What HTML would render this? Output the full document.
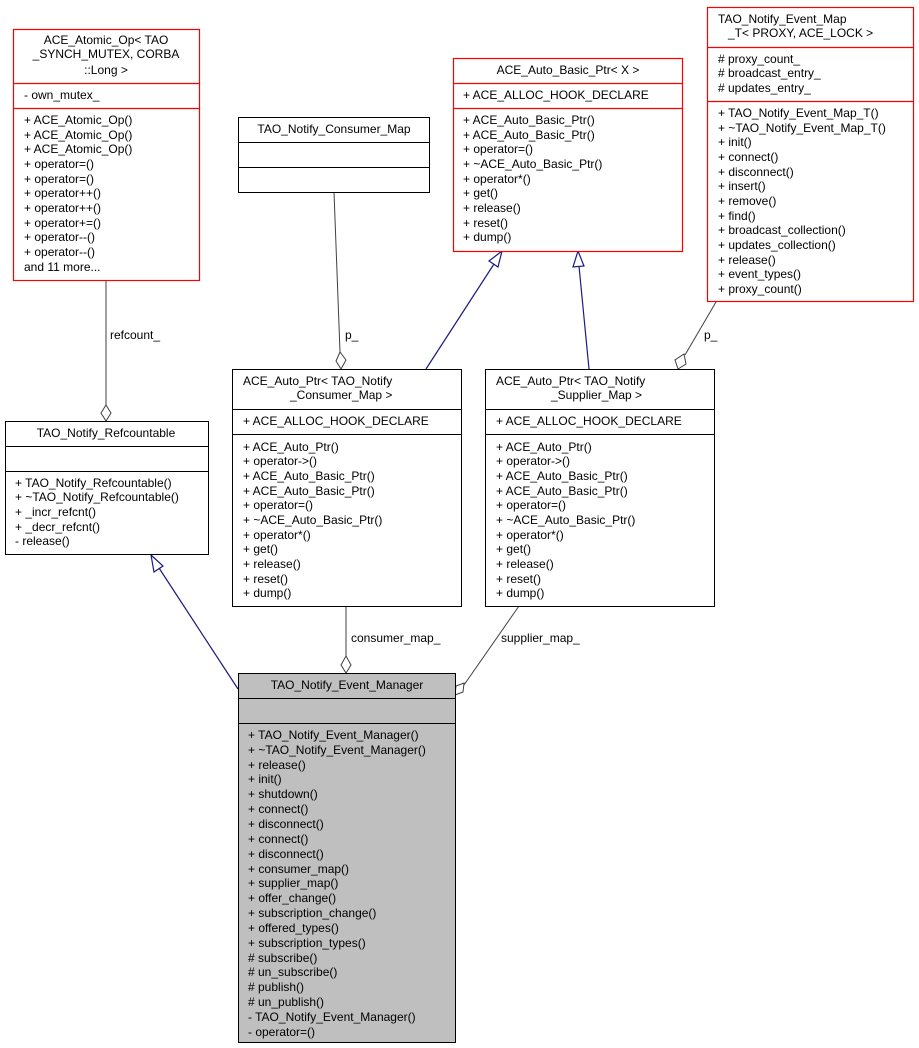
<!DOCTYPE html>
<html><head><meta charset="utf-8"><style>
html,body{margin:0;padding:0;background:#fff;}
svg{display:block;}
text{font-family:"Liberation Sans",Helvetica,Arial,sans-serif;font-size:12px;fill:#000;}
.c{text-anchor:middle;}
</style></head><body>
<svg width="919" height="1048" viewBox="0 0 919 1048" xmlns="http://www.w3.org/2000/svg">
<!-- connectors -->
<g fill="none" stroke="#404040" stroke-width="1">
  <line x1="106" y1="281" x2="106" y2="405"/>
  <polygon points="106,421 101,413 106,405 111,413" fill="#fff"/>
  <line x1="334" y1="192" x2="340" y2="352"/>
  <polygon points="341,369 336,361 340,352 346,360" fill="#fff"/>
  <line x1="716" y1="302" x2="685" y2="355"/>
  <polygon points="678,369 675,360 684,354 686,364" fill="#fff"/>
  <line x1="346" y1="606" x2="346" y2="656"/>
  <polygon points="346,673 341,665 346,656 351,665" fill="#fff"/>
  <line x1="519" y1="606" x2="464" y2="685"/>
  <polygon points="455,695 456,686 464,683 463,692" fill="#fff"/>
</g>
<g fill="none" stroke="#1a1a80" stroke-width="1.2">
  <line x1="426" y1="369" x2="494" y2="264"/>
  <polygon points="502,251 498,267 489,261" fill="#fff"/>
  <line x1="589" y1="369" x2="579" y2="266"/>
  <polygon points="578,251 584,266 573,267" fill="#fff"/>
  <line x1="238" y1="689" x2="159" y2="568"/>
  <polygon points="151,555 163,566 154,572" fill="#fff"/>
</g>
<text x="110" y="339">refcount_</text>
<text x="345" y="339">p_</text>
<text x="704" y="339">p_</text>
<text x="351" y="642">consumer_map_</text>
<text x="501" y="642">supplier_map_</text>

<!-- ACE_Atomic_Op -->
<g fill="#fff" stroke="#ff0000" stroke-width="1.2">
  <rect x="13.5" y="29.5" width="186" height="251"/>
  <line x1="13.5" y1="83.5" x2="199.5" y2="83.5"/>
  <line x1="13.5" y1="108.5" x2="199.5" y2="108.5"/>
</g>
<text class="c" x="106" y="44">ACE_Atomic_Op&lt; TAO</text>
<text class="c" x="106" y="58">_SYNCH_MUTEX, CORBA</text>
<text class="c" x="106" y="74">::Long &gt;</text>
<text x="24" y="99">- own_mutex_</text>
<text x="24" y="124">+ ACE_Atomic_Op()</text>
<text x="24" y="139">+ ACE_Atomic_Op()</text>
<text x="24" y="153">+ ACE_Atomic_Op()</text>
<text x="24" y="168">+ operator=()</text>
<text x="24" y="183">+ operator=()</text>
<text x="24" y="197">+ operator++()</text>
<text x="24" y="212">+ operator++()</text>
<text x="24" y="227">+ operator+=()</text>
<text x="24" y="241">+ operator--()</text>
<text x="24" y="256">+ operator--()</text>
<text x="24" y="271">and 11 more...</text>

<!-- TAO_Notify_Consumer_Map -->
<g fill="#fff" stroke="#000" stroke-width="1">
  <rect x="238.5" y="117.5" width="191" height="75"/>
  <line x1="238.5" y1="142.5" x2="429.5" y2="142.5"/>
  <line x1="238.5" y1="167.5" x2="429.5" y2="167.5"/>
</g>
<text class="c" x="334" y="133">TAO_Notify_Consumer_Map</text>

<!-- ACE_Auto_Basic_Ptr -->
<g fill="#fff" stroke="#ff0000" stroke-width="1.2">
  <rect x="453.5" y="58.5" width="229" height="193"/>
  <line x1="453.5" y1="83.5" x2="682.5" y2="83.5"/>
  <line x1="453.5" y1="108.5" x2="682.5" y2="108.5"/>
</g>
<text class="c" x="568" y="74">ACE_Auto_Basic_Ptr&lt; X &gt;</text>
<text x="463" y="99">+ ACE_ALLOC_HOOK_DECLARE</text>
<text x="463" y="124">+ ACE_Auto_Basic_Ptr()</text>
<text x="463" y="139">+ ACE_Auto_Basic_Ptr()</text>
<text x="463" y="153">+ operator=()</text>
<text x="463" y="168">+ ~ACE_Auto_Basic_Ptr()</text>
<text x="463" y="183">+ operator*()</text>
<text x="463" y="197">+ get()</text>
<text x="463" y="212">+ release()</text>
<text x="463" y="227">+ reset()</text>
<text x="463" y="241">+ dump()</text>

<!-- TAO_Notify_Event_Map_T -->
<g fill="#fff" stroke="#ff0000" stroke-width="1.2">
  <rect x="707.5" y="7.5" width="206" height="294"/>
  <line x1="707.5" y1="47.5" x2="913.5" y2="47.5"/>
  <line x1="707.5" y1="101.5" x2="913.5" y2="101.5"/>
</g>
<text x="718" y="23">TAO_Notify_Event_Map</text>
<text x="728" y="37">_T&lt; PROXY, ACE_LOCK &gt;</text>
<text x="718" y="63"># proxy_count_</text>
<text x="718" y="77"># broadcast_entry_</text>
<text x="718" y="92"># updates_entry_</text>
<text x="718" y="117">+ TAO_Notify_Event_Map_T()</text>
<text x="718" y="132">+ ~TAO_Notify_Event_Map_T()</text>
<text x="718" y="146">+ init()</text>
<text x="718" y="161">+ connect()</text>
<text x="718" y="176">+ disconnect()</text>
<text x="718" y="190">+ insert()</text>
<text x="718" y="205">+ remove()</text>
<text x="718" y="220">+ find()</text>
<text x="718" y="234">+ broadcast_collection()</text>
<text x="718" y="249">+ updates_collection()</text>
<text x="718" y="264">+ release()</text>
<text x="718" y="278">+ event_types()</text>
<text x="718" y="293">+ proxy_count()</text>

<!-- TAO_Notify_Refcountable -->
<g fill="#fff" stroke="#000" stroke-width="1">
  <rect x="5.5" y="421.5" width="203" height="133"/>
  <line x1="5.5" y1="446.5" x2="208.5" y2="446.5"/>
  <line x1="5.5" y1="471.5" x2="208.5" y2="471.5"/>
</g>
<text class="c" x="106" y="437">TAO_Notify_Refcountable</text>
<text x="15" y="487">+ TAO_Notify_Refcountable()</text>
<text x="15" y="501">+ ~TAO_Notify_Refcountable()</text>
<text x="15" y="516">+ _incr_refcnt()</text>
<text x="15" y="531">+ _decr_refcnt()</text>
<text x="15" y="545">- release()</text>

<!-- ACE_Auto_Ptr consumer -->
<g fill="#fff" stroke="#000" stroke-width="1">
  <rect x="232.5" y="369.5" width="229" height="237"/>
  <line x1="232.5" y1="409.5" x2="461.5" y2="409.5"/>
  <line x1="232.5" y1="434.5" x2="461.5" y2="434.5"/>
</g>
<text x="243" y="385">ACE_Auto_Ptr&lt; TAO_Notify</text>
<text x="290" y="399">_Consumer_Map &gt;</text>
<text x="243" y="425">+ ACE_ALLOC_HOOK_DECLARE</text>
<text x="243" y="451">+ ACE_Auto_Ptr()</text>
<text x="243" y="465">+ operator-&gt;()</text>
<text x="243" y="480">+ ACE_Auto_Basic_Ptr()</text>
<text x="243" y="495">+ ACE_Auto_Basic_Ptr()</text>
<text x="243" y="509">+ operator=()</text>
<text x="243" y="524">+ ~ACE_Auto_Basic_Ptr()</text>
<text x="243" y="539">+ operator*()</text>
<text x="243" y="553">+ get()</text>
<text x="243" y="568">+ release()</text>
<text x="243" y="583">+ reset()</text>
<text x="243" y="597">+ dump()</text>

<!-- ACE_Auto_Ptr supplier -->
<g fill="#fff" stroke="#000" stroke-width="1">
  <rect x="485.5" y="369.5" width="229" height="237"/>
  <line x1="485.5" y1="409.5" x2="714.5" y2="409.5"/>
  <line x1="485.5" y1="434.5" x2="714.5" y2="434.5"/>
</g>
<text x="496" y="385">ACE_Auto_Ptr&lt; TAO_Notify</text>
<text x="551" y="399">_Supplier_Map &gt;</text>
<text x="496" y="425">+ ACE_ALLOC_HOOK_DECLARE</text>
<text x="496" y="451">+ ACE_Auto_Ptr()</text>
<text x="496" y="465">+ operator-&gt;()</text>
<text x="496" y="480">+ ACE_Auto_Basic_Ptr()</text>
<text x="496" y="495">+ ACE_Auto_Basic_Ptr()</text>
<text x="496" y="509">+ operator=()</text>
<text x="496" y="524">+ ~ACE_Auto_Basic_Ptr()</text>
<text x="496" y="539">+ operator*()</text>
<text x="496" y="553">+ get()</text>
<text x="496" y="568">+ release()</text>
<text x="496" y="583">+ reset()</text>
<text x="496" y="597">+ dump()</text>

<!-- TAO_Notify_Event_Manager -->
<g fill="#bfbfbf" stroke="#000" stroke-width="1">
  <rect x="238.5" y="673.5" width="217" height="369"/>
  <line x1="238.5" y1="698.5" x2="455.5" y2="698.5"/>
  <line x1="238.5" y1="723.5" x2="455.5" y2="723.5"/>
</g>
<text class="c" x="347" y="689">TAO_Notify_Event_Manager</text>
<text x="248" y="739">+ TAO_Notify_Event_Manager()</text>
<text x="248" y="754">+ ~TAO_Notify_Event_Manager()</text>
<text x="248" y="769">+ release()</text>
<text x="248" y="783">+ init()</text>
<text x="248" y="798">+ shutdown()</text>
<text x="248" y="813">+ connect()</text>
<text x="248" y="828">+ disconnect()</text>
<text x="248" y="843">+ connect()</text>
<text x="248" y="858">+ disconnect()</text>
<text x="248" y="873">+ consumer_map()</text>
<text x="248" y="887">+ supplier_map()</text>
<text x="248" y="902">+ offer_change()</text>
<text x="248" y="917">+ subscription_change()</text>
<text x="248" y="932">+ offered_types()</text>
<text x="248" y="947">+ subscription_types()</text>
<text x="248" y="962"># subscribe()</text>
<text x="248" y="976"># un_subscribe()</text>
<text x="248" y="991"># publish()</text>
<text x="248" y="1006"># un_publish()</text>
<text x="248" y="1021">- TAO_Notify_Event_Manager()</text>
<text x="248" y="1036">- operator=()</text>
</svg>
</body></html>
